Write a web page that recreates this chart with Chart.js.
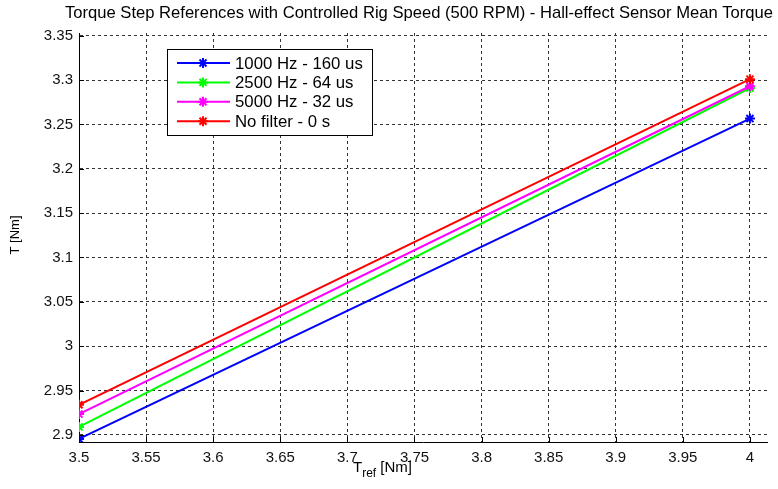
<!DOCTYPE html>
<html lang="en">
  <head>
    <meta charset="UTF-8" />
    <title>Torque Step References</title>
    <script src="https://cdn.jsdelivr.net/npm/chart.js"></script>
    <style>
      html, body { margin: 0; padding: 0; background: #fff; }
    </style>
  </head>
  <body>
    <canvas id="torqueChart" width="778" height="489"></canvas>
    <script>
      const torqueRef = [3.5, 4];
      const hz1000 = [2.8955, 3.2565];
      const hz2500 = [2.909, 3.291];
      const hz5000 = [2.9235, 3.293];
      const noFilter = [2.934, 3.301];

      const seriesNames = ["1000 Hz - 160 us", "2500 Hz - 64 us", "5000 Hz - 32 us", "No filter - 0 s"];
      const xTicks = [3.5, 3.55, 3.6, 3.65, 3.7, 3.75, 3.8, 3.85, 3.9, 3.95, 4];
      const yTicks = [2.9, 2.95, 3, 3.05, 3.1, 3.15, 3.2, 3.25, 3.3, 3.35];

      const FONT = "'Liberation Sans', Arial, sans-serif";
      const colors = ["#0000ff", "#00ff00", "#ff00ff", "#ff0000"];

      function makeSet(i, values) {
        return {
          label: seriesNames[i],
          data: torqueRef.map((x, k) => ({ x: x, y: values[k] })),
          borderColor: colors[i],
          backgroundColor: colors[i],
          borderWidth: 2,
          pointStyle: "star",
          pointRadius: 5,
          pointBorderWidth: 2,
          order: 4 - i,
        };
      }

      // title, axis labels, inner ticks and the boxed legend
      const decorations = {
        id: "decorations",
        afterDraw(chart) {
          const ctx = chart.ctx;
          const area = chart.chartArea;
          const xs = chart.scales.x;
          const ys = chart.scales.y;
          ctx.save();

          // inner tick marks
          ctx.strokeStyle = "#000";
          ctx.lineWidth = 1;
          ctx.beginPath();
          xTicks.forEach((v) => {
            const px = Math.round(xs.getPixelForValue(v)) + 0.5;
            ctx.moveTo(px, area.bottom);
            ctx.lineTo(px, area.bottom - 5);
          });
          yTicks.forEach((v) => {
            const py = Math.round(ys.getPixelForValue(v)) + 0.5;
            ctx.moveTo(area.left, py);
            ctx.lineTo(area.left + 5, py);
          });
          ctx.stroke();

          ctx.fillStyle = "#000";
          ctx.textBaseline = "middle";

          // title
          ctx.font = "16.6px " + FONT;
          ctx.textAlign = "center";
          ctx.fillText(
            "Torque Step References with Controlled Rig Speed (500 RPM) - Hall-effect Sensor Mean Torque",
            419, 13
          );

          // x axis title with subscript
          ctx.font = "15px " + FONT;
          ctx.textAlign = "left";
          const xl = 353;
          ctx.fillText("T", xl, 468);
          const tw = ctx.measureText("T").width;
          ctx.font = "12px " + FONT;
          ctx.fillText("ref", xl + tw, 474);
          const rw = ctx.measureText("ref").width;
          ctx.font = "15px " + FONT;
          ctx.fillText(" [Nm]", xl + tw + rw, 468);

          // y axis title
          ctx.save();
          ctx.translate(15, 235);
          ctx.rotate(-Math.PI / 2);
          ctx.textAlign = "center";
          ctx.font = "13px " + FONT;
          ctx.fillText("T [Nm]", 0, 0);
          ctx.restore();

          // legend
          const lx = 167.5, ly = 49.5, lw = 205, lh = 86;
          ctx.fillStyle = "#fff";
          ctx.fillRect(lx, ly, lw, lh);
          ctx.strokeStyle = "#000";
          ctx.lineWidth = 1;
          ctx.strokeRect(lx, ly, lw, lh);
          ctx.font = "16.8px " + FONT;
          ctx.textAlign = "left";
          chart.data.datasets.forEach((ds, i) => {
            const cy = 63 + i * 19.4;
            ctx.strokeStyle = ds.borderColor;
            ctx.fillStyle = ds.borderColor;
            ctx.lineWidth = 2;
            ctx.beginPath();
            ctx.moveTo(177, cy);
            ctx.lineTo(230, cy);
            ctx.stroke();
            ctx.beginPath();
            ctx.moveTo(198, cy); ctx.lineTo(208, cy);
            ctx.moveTo(203, cy - 5); ctx.lineTo(203, cy + 5);
            ctx.moveTo(199.5, cy - 3.5); ctx.lineTo(206.5, cy + 3.5);
            ctx.moveTo(199.5, cy + 3.5); ctx.lineTo(206.5, cy - 3.5);
            ctx.stroke();
            ctx.fillStyle = "#000";
            ctx.fillText(ds.label, 235, cy + 1);
          });
          ctx.restore();
        },
      };

      const ctx = document.getElementById("torqueChart").getContext("2d");
      new Chart(ctx, {
        type: "line",
        data: {
          datasets: [
            makeSet(0, hz1000),
            makeSet(1, hz2500),
            makeSet(2, hz5000),
            makeSet(3, noFilter),
          ],
        },
        options: {
          responsive: false,
          animation: false,
          devicePixelRatio: 1,
          layout: { padding: { top: 33, right: 11, left: 0, bottom: 0 } },
          plugins: {
            legend: { display: false },
            title: { display: false },
            tooltip: { enabled: false },
          },
          scales: {
            x: {
              type: "linear",
              min: 3.5,
              max: 4.0127,
              afterBuildTicks: (scale) => {
                scale.ticks = xTicks.map((v) => ({ value: v }));
              },
              afterFit: (scale) => {
                scale.height = 47;
              },
              grid: { color: "#333", lineWidth: 1, drawTicks: false },
              border: { display: true, color: "#000", width: 1, dash: [3, 3] },
              ticks: {
                padding: 7,
                maxRotation: 0,
                autoSkip: false,
                color: "#111",
                font: { family: FONT, size: 15 },
                callback: (v) => String(+v.toFixed(2)),
              },
            },
            y: {
              type: "linear",
              min: 2.892,
              max: 3.353,
              afterBuildTicks: (scale) => {
                scale.ticks = yTicks.map((v) => ({ value: v }));
              },
              afterFit: (scale) => {
                scale.width = 79;
              },
              grid: { color: "#333", lineWidth: 1, drawTicks: false },
              border: { display: true, color: "#000", width: 1, dash: [3, 3] },
              ticks: {
                padding: 6,
                autoSkip: false,
                color: "#111",
                font: { family: FONT, size: 15 },
                callback: (v) => String(+v.toFixed(2)),
              },
            },
          },
        },
        plugins: [decorations],
      });
    </script>
  </body>
</html>
